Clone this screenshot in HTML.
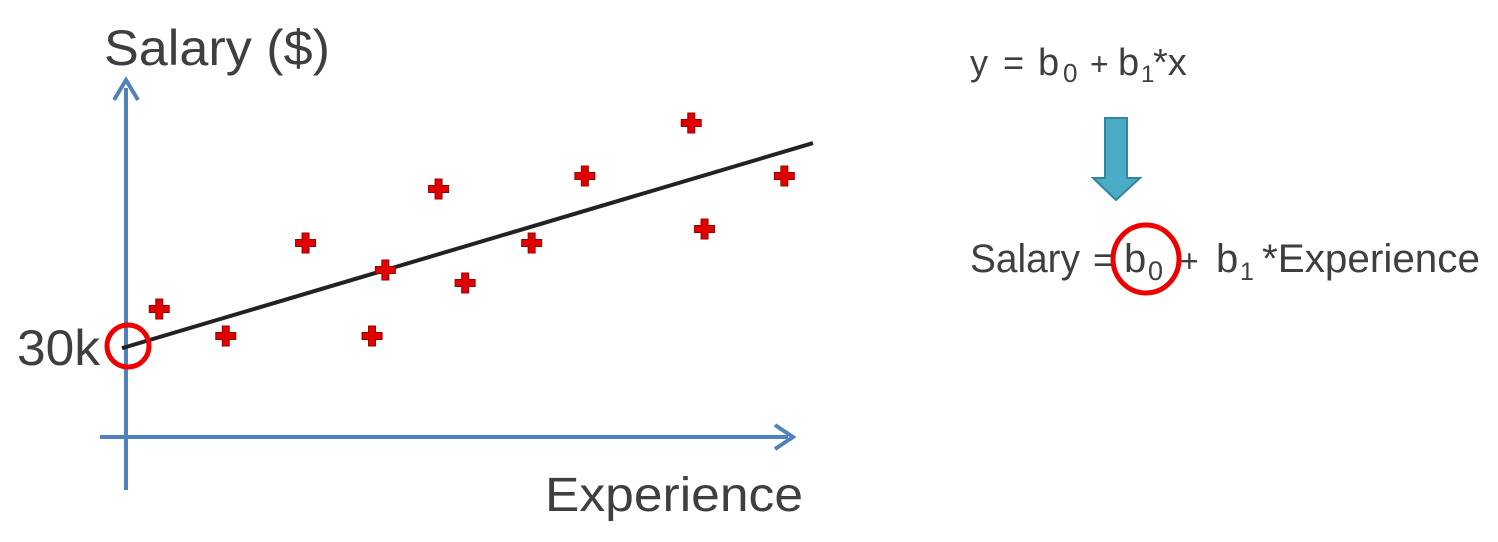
<!DOCTYPE html>
<html><head><meta charset="utf-8"><style>
body{margin:0;background:#fff;width:1498px;height:537px;overflow:hidden}
svg text{font-family:"Liberation Sans",sans-serif;fill:#3f3f3f}
</style></head><body>
<svg width="1498" height="537" xmlns="http://www.w3.org/2000/svg">
<g id="axes">
<line x1="126" y1="490" x2="126" y2="88" stroke="#4f81bd" stroke-width="4"/>
<polyline points="114,100 126,80 138,100" fill="none" stroke="#4f81bd" stroke-width="4"/>
<line x1="100" y1="437" x2="788" y2="437" stroke="#4f81bd" stroke-width="4"/>
<polyline points="775,425 793,437 775,449" fill="none" stroke="#4f81bd" stroke-width="4"/>
</g>
<text x="104" y="65" font-size="50" textLength="226" lengthAdjust="spacingAndGlyphs">Salary ($)</text>
<text x="17" y="365" font-size="50" textLength="83" lengthAdjust="spacingAndGlyphs">30k</text>
<text x="545" y="511" font-size="48" textLength="258" lengthAdjust="spacingAndGlyphs">Experience</text>
<g id="marks"></g>
<circle cx="128" cy="346" r="21" fill="none" stroke="#e00" stroke-width="5"/>
<g font-size="36">
<text x="970" y="75" font-size="36">y</text>
<text x="1003" y="75" font-size="36">=</text>
<text x="1038" y="75" font-size="38">b</text>
<text x="1063" y="82" font-size="26">0</text>
<text x="1090" y="75" font-size="32">+</text>
<text x="1118" y="75" font-size="38">b</text>
<text x="1141" y="82" font-size="24">1</text>
<text x="1153" y="75" font-size="38">*x</text>
</g>
<g>
<polygon points="1105,118 1127,118 1127,178 1140,178 1116,200 1093,178 1105,178" fill="#4bacc6" stroke="#31859c" stroke-width="2"/>
</g>
<g>
<text x="970" y="272" font-size="40" textLength="110" lengthAdjust="spacingAndGlyphs">Salary</text>
<text x="1093" y="272" font-size="36">=</text>
<text x="1124" y="272" font-size="40">b</text>
<text x="1148" y="280" font-size="27">0</text>
<text x="1180" y="272" font-size="32">+</text>
<text x="1216" y="272" font-size="40">b</text>
<text x="1240" y="280" font-size="25">1</text>
<text x="1262" y="272" font-size="40" textLength="218" lengthAdjust="spacingAndGlyphs">*Experience</text>
</g>
<ellipse cx="1146" cy="259" rx="33" ry="34" fill="none" stroke="#e00" stroke-width="5"/>
</svg>
<script>
const experience=[0.5,1.5,2.7,3.7,3.9,4.7,5.1,6.1,6.9,8.5,8.7,9.9];
const salary=[49,35.5,82,35.5,68.5,109,62,82,115.5,142,89,115.5];
const b0=30, b1=9.87;
const lineRange=[-0.06,10.33];
const xS=v=>126+v*66.5, yS=v=>347-(v-30)*2;
const NS="http://www.w3.org/2000/svg";
const g=document.getElementById('marks');
const ln=document.createElementNS(NS,'line');
ln.setAttribute('x1',xS(lineRange[0]));ln.setAttribute('y1',yS(b0+b1*lineRange[0]));
ln.setAttribute('x2',xS(lineRange[1]));ln.setAttribute('y2',yS(b0+b1*lineRange[1]));
ln.setAttribute('stroke','#222');ln.setAttribute('stroke-width','4');


g.appendChild(ln);
experience.forEach((e,i)=>{
 const cx=xS(e), cy=yS(salary[i]);
 const p=document.createElementNS(NS,'path');
 p.setAttribute('d',`M${cx-3.5},${cy-10}h7v6.5h6.5v7h-6.5v6.5h-7v-6.5h-6.5v-7h6.5z`);
 p.setAttribute('fill','#e00000');p.setAttribute('stroke','#900');p.setAttribute('stroke-width','1');
 
 
 g.appendChild(p);
});
</script>
</body></html>
